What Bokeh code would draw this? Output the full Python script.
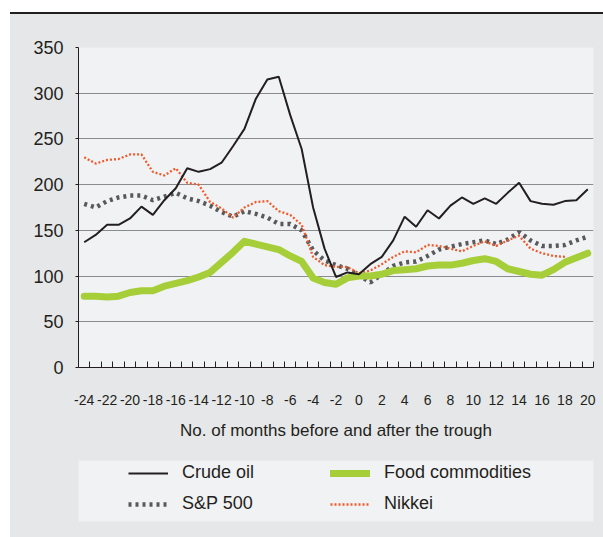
from bokeh.plotting import figure
from bokeh.models import FixedTicker, Legend, LegendItem, Spacer, Range1d, InlineStyleSheet, Div
from bokeh.layouts import column, row
from bokeh.embed import file_html
from bokeh.resources import INLINE

NAN = float("nan")

months = list(range(-24, 21))
crude_oil = [137, 145, 156, 156, 163, 176, 167, 183, 196, 218,
             214, 217, 224, 242, 261, 294, 315, 318, 276, 239,
             175, 130, 99, 104, 102, 113, 121, 139, 165, 154,
             172, 163, 177, 186, 179, 185, 179, 191, 202, 182,
             179, 178, 182, 183, 195]
food_commodities = [78, 78, 77, 78, 82, 84, 84, 89, 92, 95,
                    99, 104, 115, 126, 138, 135, 132, 129, 122, 116,
                    98, 93, 91, 98, 100, 100, 102, 106, 107, 108,
                    111, 112, 112, 114, 117, 119, 116, 108, 105, 102,
                    101, 107, 115, 120, 125]
sp500 = [179, 175, 182, 186, 188, 188, 183, 187, 191, 185,
         182, 177, 170, 165, 171, 168, 164, 157, 157, 150,
         128, 117, 112, 108, 101, 93, 102, 111, 115, 116,
         122, 129, 132, 135, 137, 139, 135, 140, 148, 139,
         133, 133, 134, 139, 143]
nikkei = [230, 223, 227, 228, 233, 233, 214, 210, 218, 202,
          200, 181, 174, 164, 175, 181, 182, 171, 167, 156,
          121, 112, 110, 110, 103, 106, 113, 121, 127, 126,
          134, 133, 130, 127, 133, 138, 133, 139, 144, 130,
          125, 122, 121, NAN, NAN]

y_ticks = [0, 50, 100, 150, 200, 250, 300, 350]
x_tick_labels = list(range(-24, 21, 2))
x_title = "No. of months before and after the trough"
series_names = ["Crude oil", "Food commodities", "S&P 500", "Nikkei"]

FONT = "Liberation Sans"
TEXT = "#231f20"
BG = "#e6e7e8"
PANEL = "#f1f2f4"
C_CRUDE = "#231f20"
C_FOOD = "#a6ce39"
C_SP = "#58595b"
C_NIK = "#f15a29"

W = 593

p = figure(width=W, height=436, x_range=Range1d(-24.5, 20.5), y_range=Range1d(0, 350),
           output_backend="svg", toolbar_location=None,
           min_border_left=68, min_border_right=10, min_border_top=33, min_border_bottom=83,
           background_fill_color=PANEL, border_fill_color=BG, outline_line_color=None)

p.line(months, sp500, line_color=C_SP, line_width=4.5, line_dash="3 4")
p.line(months, nikkei, line_color=C_NIK, line_width=2.3, line_dash="2 2")
p.line(months, food_commodities, line_color=C_FOOD, line_width=7, line_cap="round", line_join="round")
p.line(months, crude_oil, line_color=C_CRUDE, line_width=2)

p.xgrid.grid_line_color = None
p.ygrid.grid_line_color = "#8a8b8d"
p.ygrid.grid_line_width = 1.2
p.ygrid.ticker = FixedTicker(ticks=y_ticks)

ya = p.yaxis[0]
ya.ticker = FixedTicker(ticks=y_ticks)
ya.axis_line_color = TEXT
ya.major_tick_line_color = TEXT
ya.major_tick_in = 0
ya.major_tick_out = 3
ya.minor_tick_line_color = None
ya.major_label_standoff = 12
ya.major_label_text_font = FONT
ya.major_label_text_font_size = "18px"
ya.major_label_text_color = TEXT

xa = p.xaxis[0]
xa.ticker = FixedTicker(ticks=x_tick_labels, minor_ticks=[m + 0.5 for m in range(-25, 21)])
xa.major_label_overrides = {t: str(t) for t in x_tick_labels}
xa.axis_line_color = TEXT
xa.major_tick_line_color = None
xa.major_tick_in = 0
xa.major_tick_out = 0
xa.minor_tick_line_color = TEXT
xa.minor_tick_in = 6
xa.minor_tick_out = 0
xa.major_label_standoff = 27
xa.major_label_text_font = FONT
xa.major_label_text_font_size = "14px"
xa.major_label_text_color = TEXT
xa.axis_label = x_title
xa.axis_label_text_font = FONT
xa.axis_label_text_font_size = "17px"
xa.axis_label_text_font_style = "normal"
xa.axis_label_text_color = TEXT
xa.axis_label_standoff = 13

# legend panel
b = figure(width=W, height=87, x_range=Range1d(0, 1), y_range=Range1d(0, 1),
           x_axis_type=None, y_axis_type=None,
           output_backend="svg", toolbar_location=None,
           min_border_left=68, min_border_right=10, min_border_top=10, min_border_bottom=16,
           background_fill_color=PANEL, border_fill_color=BG, outline_line_color=None)
b.grid.visible = False
# legend-only renderers (their points lie outside the visible range)
off = [-1, -1]
r_c = b.line(off, off, line_color=C_CRUDE, line_width=2)
r_f = b.line(off, off, line_color=C_FOOD, line_width=7, line_cap="round")
r_s = b.line(off, off, line_color=C_SP, line_width=4.5, line_dash="3 4")
r_n = b.line(off, off, line_color=C_NIK, line_width=2.3, line_dash="2 2")

legend = Legend(items=[LegendItem(label=series_names[0], renderers=[r_c]),
                       LegendItem(label=series_names[1], renderers=[r_f]),
                       LegendItem(label=series_names[2], renderers=[r_s]),
                       LegendItem(label=series_names[3], renderers=[r_n])],
                location=(50, 7), orientation="horizontal", ncols=2,
                padding=0, spacing=10, margin=0,
                glyph_width=40, glyph_height=20, label_height=20, label_width=138,
                label_standoff=14, label_text_font=FONT, label_text_font_size="18px",
                label_text_color=TEXT, background_fill_alpha=0, border_line_color=None)
b.add_layout(legend)

left_gap = Spacer(width=10, height=537, margin=0)
top_gap = Spacer(width=W, height=12, margin=0)
rule = Div(text='<div style="width:593px;height:2px;background-color:#231f20;"></div>',
           width=W, height=2, margin=0,
           stylesheets=[InlineStyleSheet(css=":host { background-color: #231f20; overflow: hidden; }")])
panel = column(p, b, spacing=0,
               stylesheets=[InlineStyleSheet(css=":host { background-color: #e6e7e8; }")])
layout = row(left_gap, column(top_gap, rule, panel, spacing=0), spacing=0)

open("out.html", "w").write(file_html(layout, INLINE))
